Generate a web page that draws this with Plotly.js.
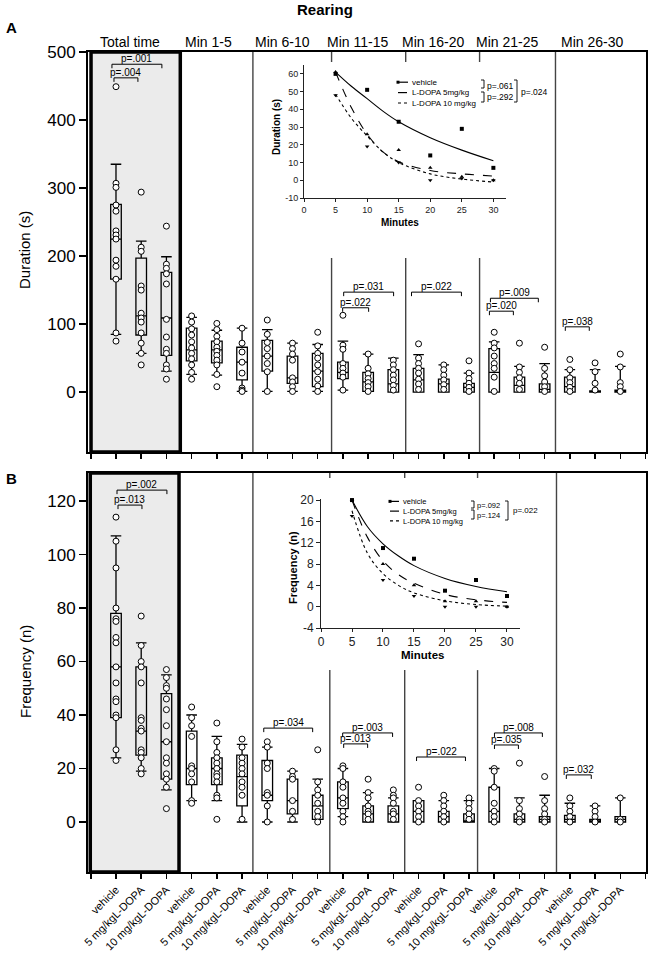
<!DOCTYPE html>
<html><head><meta charset="utf-8">
<script src="https://cdn.plot.ly/plotly-3.0.1.min.js"></script>
<style>html,body{margin:0;padding:0;background:#fff}#chart{width:649px;height:962px}</style>
</head><body><div id="chart"></div>
<script>
const W = 649, H = 962;
const px = v => v / W;
const py = v => 1 - v / H;
const FONT = 'Liberation Sans, Arial, sans-serif';

const sections = ['Total time','Min 1-5','Min 6-10','Min 11-15','Min 16-20','Min 21-25','Min 26-30'];
const groups = ['vehicle','5 mg/kgL-DOPA','10 mg/kgL-DOPA'];

// ---- Panel A: Duration (s) individual points ----
const durTotal = [[449,307,301,275,266,237,231,225,194,185,166,87,75],[294,213,207,156,150,116,109,103,87,72,57,40],[244,188,182,174,159,107,81,63,57,40,34,19]];
const dur1_5   = [[112,103,93,84,74,65,57,49,40,29,19],[101,92,82,74,66,60,54,47,40,26,8],[94,72,59,44,28,6,3,1]];
const dur6_10  = [[106,85,73,64,53,42,30,1],[72,64,56,47,21,15,8,1],[88,68,57,50,40,30,19,9,1]];
const dur11_15 = [[113,69,63,42,35,28,22,3],[56,35,27,20,14,8,1],[47,40,33,25,18,10,3]];
const dur16_20 = [[71,50,42,35,28,19,12,4],[40,33,25,18,11,4],[46,28,20,13,7,1]];
const dur21_25 = [[88,72,65,53,42,35,22,1],[72,37,29,21,13,4],[66,35,24,15,8,1]];
const dur26_30 = [[48,33,21,14,7,1],[43,30,13,3],[56,37,14,8,1]];
// box statistics (21 boxes)
const durLo  = [85,57,31, 26,25,1, 1,1,1, 3,1,0, 0,0,0, 0,0,0, 0,0,0];
const durQ1  = [166,84,54, 46,43,18, 31,13,8, 20,1,0, 0,0,0, 0,0,0, 0,0,0];
const durMed = [225,112,109, 62,62,44, 53,21,31, 29,15,12, 18,12,7, 29,10,4, 8,0,1];
const durQ3  = [276,197,176, 94,75,66, 76,53,57, 44,29,33, 35,19,13, 64,22,12, 22,2,3];
const durHi  = [335,222,199, 110,91,94, 92,72,70, 75,56,50, 55,40,28, 74,38,42, 33,33,38];

// ---- Panel B: Frequency (n) individual points ----
const freqTotal = [[114,105,95,80,76,75,69,67,58,52,46,45,40,39,27,23],[77,66,60,58,52,39,38,35,34,27,26,24,20,18],[57,54,51,50,46,42,36,30,24,22,18,16,13,5]];
const freq1_5   = [[43,39,36,32,21,20,18,15,8,7],[37,30,26,24,22,20,18,17,15,10,9,1],[31,28,24,22,20,18,15,13,10,1]];
const freq6_10  = [[30,28,22,20,11,10,6,0],[19,17,16,8,4,1],[27,15,12,10,7,4,2,0]];
const freq11_15 = [[21,20,15,13,9,7,4,2,0],[16,11,9,6,4,3,1],[12,10,9,7,4,3,1]];
const freq16_20 = [[13,8,6,4,2,0],[10,8,6,4,2,0],[9,7,5,3,1]];
const freq21_25 = [[20,19,13,7,4,2,0],[22,8,5,3,1,0],[17,8,5,3,1,0]];
const freq26_30 = [[9,6,4,2,0],[6,4,2,0],[9,1,0]];
const freqLo  = [24,19,12, 8,8,0, 0,0,1, 2,0,0, 0,0,0, 0,0,0, 0,0,0];
const freqQ1  = [39,25,16, 14,14,6, 8,3,1, 5,0,0, 0,0,0, 0,0,0, 0,0,0];
const freqMed = [58,34,30, 20,20,17, 10,8,6, 9,3,3, 4,2,0, 4,1,1, 1,0,1];
const freqQ3  = [78,58,48, 34,24,25, 23,16,10, 15,6,6, 8,4,3, 13,3,2, 2.5,1,2];
const freqHi  = [107,67,55, 40,32,29, 28,19,16, 20,11,9, 8,8,8, 20,9,10, 7,6,9];

// ---- significance brackets: [x0 index, x1 index, y value, label] ----
const durSig = [[-0.16,1.82,482,'p=.001'],[-0.08,0.87,462,'p=.004'],[9.03,11.01,147,'p=.031'],[8.99,10.02,124,'p=.022'],
  [11.72,13.70,147,'p=.022'],[14.85,16.75,138,'p=.009'],[14.81,15.76,119,'p=.020'],[17.82,18.77,96,'p=.038']];
const freqSig = [[0.04,2.02,124.1,'p=.002'],[0.08,1.03,118.5,'p=.013'],[5.86,7.80,35.1,'p=.034'],[8.99,10.97,33.3,'p=.003'],
  [9.03,9.98,29.2,'p=.013'],[11.92,13.86,24.3,'p=.022'],[15.01,16.91,33.3,'p=.008'],[15.01,15.96,28.8,'p=.035'],[17.86,18.85,17.6,'p=.032']];

// ---- insets: time course ----
const minutes = [5,10,15,20,25,30];
const fitMinutes = [5,7.5,10,12.5,15,20,25,30];
const durVehMean = [60,51,33,14,29,7];
const dur5Mean = [61,26,17,7,2,0];
const dur10Mean = [48,19,10,0,1,0];
const durVehFit = [61,53,46,39,33,24,17,11];
const dur5Fit = [61,41,26,16,10.5,5.5,3.6,2.4];
const dur10Fit = [48.5,35,25,16,10,3.6,0.7,-1];
const freqVehMean = [20,11,9,3,5,2];
const freq5Mean = [20,8,4,1,1,0];
const freq10Mean = [17,5,2,0,0,0];
const freqVehFit = [20,15,11.8,9.5,7.7,5.3,3.8,2.8];
const freq5Fit = [20,13,8.6,6,4.4,2.3,1.3,0.8];
const freq10Fit = [18,10,6.2,4,2.6,1.1,0.4,0.1];
const legendLabels = ['vehicle','L-DOPA 5mg/kg','L-DOPA 10 mg/kg'];

// ---------- build ----------
const positions = [];
const tickText = [''];
sections.forEach((s, si) => groups.forEach((g, gi) => { positions.push(si * 3 + gi); tickText.push(g); }));
tickText.push('');
const tickVals = [-1].concat(positions, [21]);

function boxTrace(xa, ya, lo, q1, med, q3, hi) {
  return {type:'box', orientation:'v', xaxis:xa, yaxis:ya, x:positions, lowerfence:lo, q1:q1, median:med, q3:q3, upperfence:hi,
    boxpoints:false, fillcolor:'rgba(0,0,0,0)', line:{color:'#000', width:1.3}, whiskerwidth:1, width:0.42,
    hoverinfo:'skip', showlegend:false};
}
function ptsTrace(xa, ya, sets) {
  const x = [], y = [];
  sets.forEach((arr, i) => arr.forEach(v => { x.push(positions[i]); y.push(v); }));
  return {type:'scatter', mode:'markers', xaxis:xa, yaxis:ya, x:x, y:y, cliponaxis:false,
    marker:{symbol:'circle', size:6, color:'#fff', line:{color:'#000', width:1}}, hoverinfo:'skip', showlegend:false};
}
const durSets = [].concat(durTotal, dur1_5, dur6_10, dur11_15, dur16_20, dur21_25, dur26_30);
const freqSets = [].concat(freqTotal, freq1_5, freq6_10, freq11_15, freq16_20, freq21_25, freq26_30);

function meanTrace(xa, ya, y, sym) {
  return {type:'scatter', mode:'markers', xaxis:xa, yaxis:ya, x:minutes, y:y, cliponaxis:false,
    marker:{symbol:sym, size:4, color:'#000'}, hoverinfo:'skip', showlegend:false};
}
function fitTrace(xa, ya, y, dash) {
  return {type:'scatter', mode:'lines', xaxis:xa, yaxis:ya, x:fitMinutes, y:y, cliponaxis:false,
    line:{color:'#000', width:1.1, dash:dash, shape:'spline'}, hoverinfo:'skip', showlegend:false};
}

const data = [
  boxTrace('x','y', durLo, durQ1, durMed, durQ3, durHi),
  ptsTrace('x','y', durSets),
  boxTrace('x2','y2', freqLo, freqQ1, freqMed, freqQ3, freqHi),
  ptsTrace('x2','y2', freqSets),
  fitTrace('x3','y3', durVehFit, 'solid'), fitTrace('x3','y3', dur5Fit, 'dash'), fitTrace('x3','y3', dur10Fit, 'dot'),
  meanTrace('x3','y3', durVehMean, 'square'), meanTrace('x3','y3', dur5Mean, 'triangle-up'), meanTrace('x3','y3', dur10Mean, 'triangle-down'),
  fitTrace('x4','y4', freqVehFit, 'solid'), fitTrace('x4','y4', freq5Fit, 'dash'), fitTrace('x4','y4', freq10Fit, 'dot'),
  meanTrace('x4','y4', freqVehMean, 'square'), meanTrace('x4','y4', freq5Mean, 'triangle-up'), meanTrace('x4','y4', freq10Mean, 'triangle-down')
];

const shapes = [];
const annotations = [];

function txt(text, x, y, size, opts) {
  annotations.push(Object.assign({xref:'paper', yref:'paper', x:px(x), y:py(y), text:text, showarrow:false,
    font:{family:FONT, size:size, color:'#000'}, xanchor:'center', yanchor:'middle'}, opts || {}));
}

// gray "Total time" boxes
shapes.push({type:'rect', xref:'x', yref:'y domain', x0:-0.99, x1:2.55, y0:0, y1:1, fillcolor:'#ebebeb', line:{color:'#000', width:3.5}, layer:'below'});
shapes.push({type:'rect', xref:'x2', yref:'y2 domain', x0:-1.02, x1:2.5, y0:0, y1:1, fillcolor:'#ebebeb', line:{color:'#000', width:3.5}, layer:'below'});

// separators
function vline(xr, yr, x, y0, y1) {
  shapes.push({type:'line', xref:xr, yref:yr + ' domain', x0:x, x1:x, y0:y0, y1:y1, line:{color:'#444', width:1.4}});
}
vline('x','y',5.43,0,1); vline('x','y',17.43,0,1);
[8.55,11.49,14.42].forEach(x => { vline('x','y',x,0.975,1); vline('x','y',x,0,0.485); });
vline('x2','y2',5.43,0,1); vline('x2','y2',17.47,0,1);
[8.48,11.45,14.34].forEach(x => { vline('x2','y2',x,0.9875,1); vline('x2','y2',x,0,0.506); });

// brackets
function brackets(list, xr, yr, drop) {
  list.forEach(b => {
    const [x0, x1, y, lab] = b;
    shapes.push({type:'path', xref:xr, yref:yr, path:`M ${x0},${y - drop} L ${x0},${y} L ${x1},${y} L ${x1},${y - drop}`, line:{color:'#000', width:1}});
    annotations.push({xref:xr, yref:yr, x:(x0 + x1) / 2, y:y, text:lab, showarrow:false, yanchor:'bottom', xanchor:'center', yshift:-2,
      font:{family:FONT, size:10, color:'#000'}});
  });
}
brackets(durSig, 'x', 'y', 5.9);
brackets(freqSig, 'x2', 'y2', 1.5);

// titles / headers
txt('<b>Rearing</b>', 325, 10, 15);
txt('<b>A</b>', 11, 27, 15);
txt('<b>B</b>', 11, 478, 15);
const headerX = [130, 208, 282, 357, 433, 507, 592];
sections.forEach((s, i) => txt(s, headerX[i], 42, 14));
txt('Duration (s)', 25, 250, 15, {textangle:-90});
txt('Frequency (n)', 25, 672, 15, {textangle:-90});

// inset axis titles
txt('<b>Duration (s)</b>', 276, 127, 10, {textangle:-90});
txt('<b>Minutes</b>', 400, 222, 10);
txt('<b>Frequency (n)</b>', 293, 568, 11, {textangle:-90});
txt('<b>Minutes</b>', 422, 655, 11.5);

// inset legends (labels as one multi-line text block)
function legendBlock(x0, x1, tx, yTop, size) {
  const dashes = ['solid','dash','dot'];
  const step = size * 1.3;
  const blockH = step * 3;
  legendLabels.forEach((l, i) => {
    const y = yTop + step * (i + 0.5);
    shapes.push({type:'line', xref:'paper', yref:'paper', x0:px(x0), x1:px(x1), y0:py(y), y1:py(y), line:{color:'#000', width:1.2, dash:dashes[i]}});
  });
  txt(legendLabels.join('<br>'), tx, yTop + blockH / 2, size, {xanchor:'left', align:'left', borderpad:0});
  const y0 = yTop + step * 0.5;
  shapes.push({type:'rect', xref:'paper', yref:'paper', x0:px(x0 - 1.5), x1:px(x0 + 1.5), y0:py(y0 - 1.5), y1:py(y0 + 1.5), fillcolor:'#000', line:{width:0}});
}
function rb(x, y0, y1) {
  shapes.push({type:'path', xref:'paper', yref:'paper', path:`M ${px(x - 3)},${py(y0)} L ${px(x)},${py(y0)} L ${px(x)},${py(y1)} L ${px(x - 3)},${py(y1)}`, line:{color:'#000', width:0.9}});
}
legendBlock(398, 408, 411, 77, 8);
rb(484, 80, 88); rb(484, 92, 102);
txt('p=.061<br>p=.292', 486, 91.5, 8.5, {xanchor:'left', align:'left', borderpad:0});
rb(517, 80, 102); txt('p=.024', 519, 91.5, 8.5, {xanchor:'left'});

legendBlock(390, 399, 402, 496.5, 7.5);
rb(474, 501, 508); rb(474, 510, 519);
txt('p=.092<br>p=.124', 476, 510, 7.5, {xanchor:'left', align:'left', borderpad:0});
rb(508, 501, 520); txt('p=.022', 511, 511, 8, {xanchor:'left'});

const mainX = (anchor, labels) => ({domain:[px(88), px(646)], range:[-1.11, 21.02], anchor:anchor,
  tickmode:'array', tickvals:tickVals, ticktext:labels ? tickText : tickVals.map(() => ''), showticklabels:!!labels,
  tickangle:-45, tickfont:{family:FONT, size:11, color:'#000'},
  ticks:'outside', ticklen:5, tickwidth:1.5, tickcolor:'#000', showline:true, mirror:true, linewidth:2, linecolor:'#000',
  showgrid:false, zeroline:false, fixedrange:true});
const mainY = (anchor, dom, rng, vals) => ({domain:dom, range:rng, anchor:anchor, tickmode:'array', tickvals:vals,
  tickfont:{family:FONT, size:17, color:'#000'}, ticks:'outside', ticklen:7, tickwidth:1.5, tickcolor:'#000',
  showline:true, mirror:true, linewidth:2, linecolor:'#000', showgrid:false, zeroline:false, fixedrange:true});
const insetAx = (anchor, dom, rng, vals, size, len) => ({domain:dom, range:rng, anchor:anchor, tickmode:'array', tickvals:vals,
  ticktext:vals.map(v => String(v)), tickfont:{family:FONT, size:size, color:'#222'}, ticks:'outside', ticklen:len, tickwidth:1,
  tickcolor:'#222', showline:true, linewidth:1, linecolor:'#222', showgrid:false, zeroline:false, fixedrange:true});

const layout = {
  width:W, height:H, margin:{l:0, r:0, t:0, b:0}, paper_bgcolor:'#fff', plot_bgcolor:'rgba(0,0,0,0)',
  font:{family:FONT, color:'#000'}, showlegend:false,
  xaxis: mainX('y', false),
  yaxis: mainY('x', [py(452), py(52)], [-88, 500], [0,100,200,300,400,500]),
  xaxis2: mainX('y2', true),
  yaxis2: mainY('x2', [py(872), py(473)], [-18.7, 130.5], [0,20,40,60,80,100,120]),
  xaxis3: insetAx('y3', [px(304), px(506)], [0, 32], [0,5,10,15,20,25,30], 9, 3),
  yaxis3: insetAx('x3', [py(198), py(65)], [-10, 65], [-10,0,10,20,30,40,50,60], 9, 3),
  xaxis4: insetAx('y4', [px(321), px(520)], [0, 32.1], [0,5,10,15,20,25,30], 12, 3),
  yaxis4: insetAx('x4', [py(628), py(499)], [-4, 20.2], [-4,0,4,8,12,16,20], 12, 4),
  shapes:shapes, annotations:annotations
};

Plotly.newPlot('chart', data, layout, {displayModeBar:false, staticPlot:true});
</script>
</body></html>
